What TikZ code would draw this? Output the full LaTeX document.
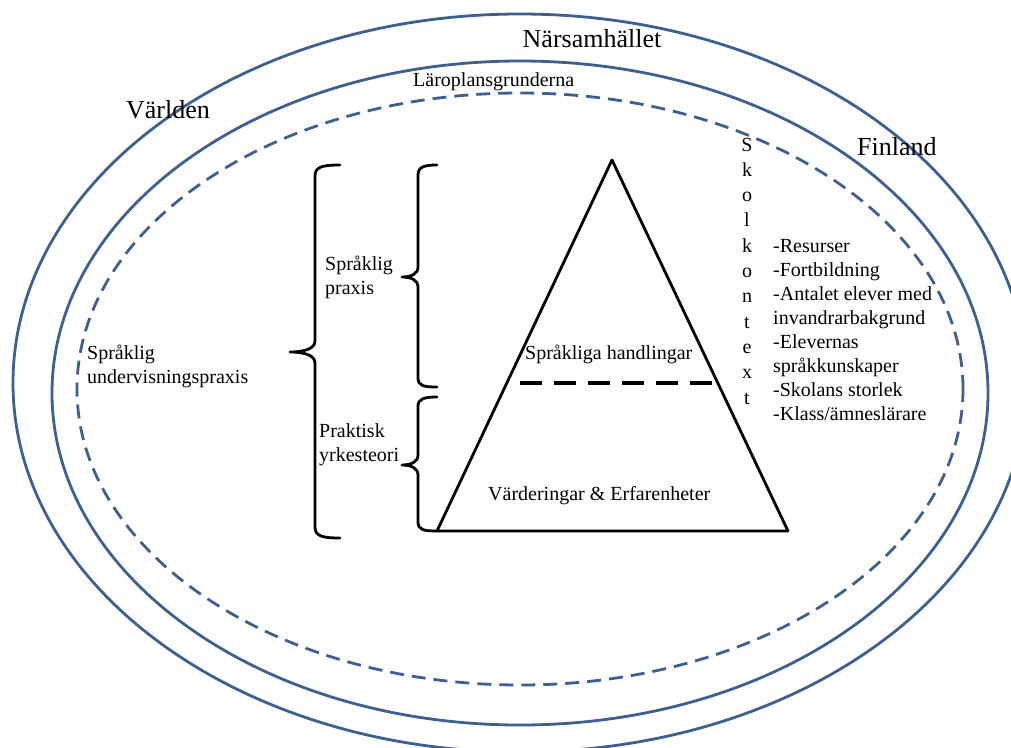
\documentclass[tikz,border=0pt]{standalone}
\usepackage{fontspec}
\setmainfont{Liberation Serif}
\definecolor{ringblue}{RGB}{62,96,145}
\begin{document}
\begin{tikzpicture}[x=1pt,y=-1pt,
  ring/.style={draw=ringblue, line width=2.8pt},
  dashring/.style={draw=ringblue, line width=2.8pt, dash pattern=on 14pt off 8pt},
  blk/.style={draw=black, line width=2.8pt, line join=round, line cap=round},
  innerdash/.style={draw=black, line width=3.2pt, dash pattern=on 22pt off 12pt},
  big/.style={font=\fontsize{26}{30}\selectfont, inner sep=0pt},
  small/.style={font=\fontsize{20}{23.9}\selectfont, inner sep=0pt},
  vert/.style={font=\fontsize{20}{25.3}\selectfont, inner sep=0pt, align=center},
]
\useasboundingbox (0,0) rectangle (1011,747);
\clip (0,0) rectangle (1011,747);

% rings
\draw[ring] (520,383) ellipse [x radius=507pt, y radius=369pt];
\draw[ring] (520,393) ellipse [x radius=468pt, y radius=332pt];
\draw[dashring] (520,389) ellipse [x radius=443pt, y radius=296pt];

% ring labels
\node[big, anchor=base] (narsam) at (592,47) {Närsamhället};
\node[big, anchor=base] (varlden) at (168,118) {Världen};
\node[big, anchor=base west] (finland) at (857,155) {Finland};
\node[small, anchor=base west] (laroplan) at (413,86) {Läroplansgrunderna};

% triangle
\coordinate (apex) at (612,160);
\coordinate (bl) at (437,531);
\coordinate (br) at (788,531);
\draw[blk] (apex) -- (br) -- (bl) -- cycle;
\coordinate (dl) at (520,383);
\coordinate (dr) at (714,383);
\draw[innerdash] (dl) -- (dr);
\node[small, anchor=base west] (handl) at (525,359) {Språkliga handlingar};
\node[small, anchor=base west] (varder) at (488,500) {Värderingar \& Erfarenheter};

% braces
\coordinate (obtop) at (340,165);
\coordinate (obtip) at (290,352);
\coordinate (obbot) at (340,538);
\draw[blk] (obtop) .. controls (322,165) and (315,167) .. (315,176) -- (315,341)
  .. controls (315,348) and (306,352) .. (obtip)
  .. controls (306,352) and (315,356) .. (315,363) -- (315,527)
  .. controls (315,536) and (322,538) .. (obbot);

\coordinate (b1top) at (437,165);
\coordinate (b1tip) at (402,277);
\coordinate (b1bot) at (437,387);
\draw[blk] (b1top) .. controls (424,165) and (418,167) .. (418,175) -- (418,267)
  .. controls (418,274) and (411,277) .. (b1tip)
  .. controls (411,277) and (418,280) .. (418,287) -- (418,378)
  .. controls (418,386) and (424,387) .. (b1bot);

\coordinate (b2top) at (437,397);
\coordinate (b2tip) at (402,465);
\coordinate (b2bot) at (bl);
\draw[blk] (b2top) .. controls (424,397) and (418,399) .. (418,406) -- (418,455)
  .. controls (418,462) and (411,465) .. (b2tip)
  .. controls (411,465) and (418,468) .. (418,475) -- (418,522)
  .. controls (418,530) and (424,531) .. (b2bot);

% brace labels (base = baseline of last line)
\node[small, anchor=base west, align=left] (sprpraxis) at (325,294) {Språklig\\praxis};
\node[small, anchor=base west, align=left] (praktisk) at (319,461) {Praktisk\\yrkesteori};
\node[small, anchor=base west, align=left] (undervis) at (87,383) {Språklig\\undervisningspraxis};

% school context
\node[vert] (skolkontext) at (747,271) {S\\k\\o\\l\\k\\o\\n\\t\\e\\x\\t};
\node[small, anchor=base west, align=left] (lista) at (773,420)
  {-Resurser\\-Fortbildning\\-Antalet elever med\\invandrarbakgrund\\-Elevernas\\språkkunskaper\\-Skolans storlek\\-Klass/ämneslärare};
\end{tikzpicture}
\end{document}
